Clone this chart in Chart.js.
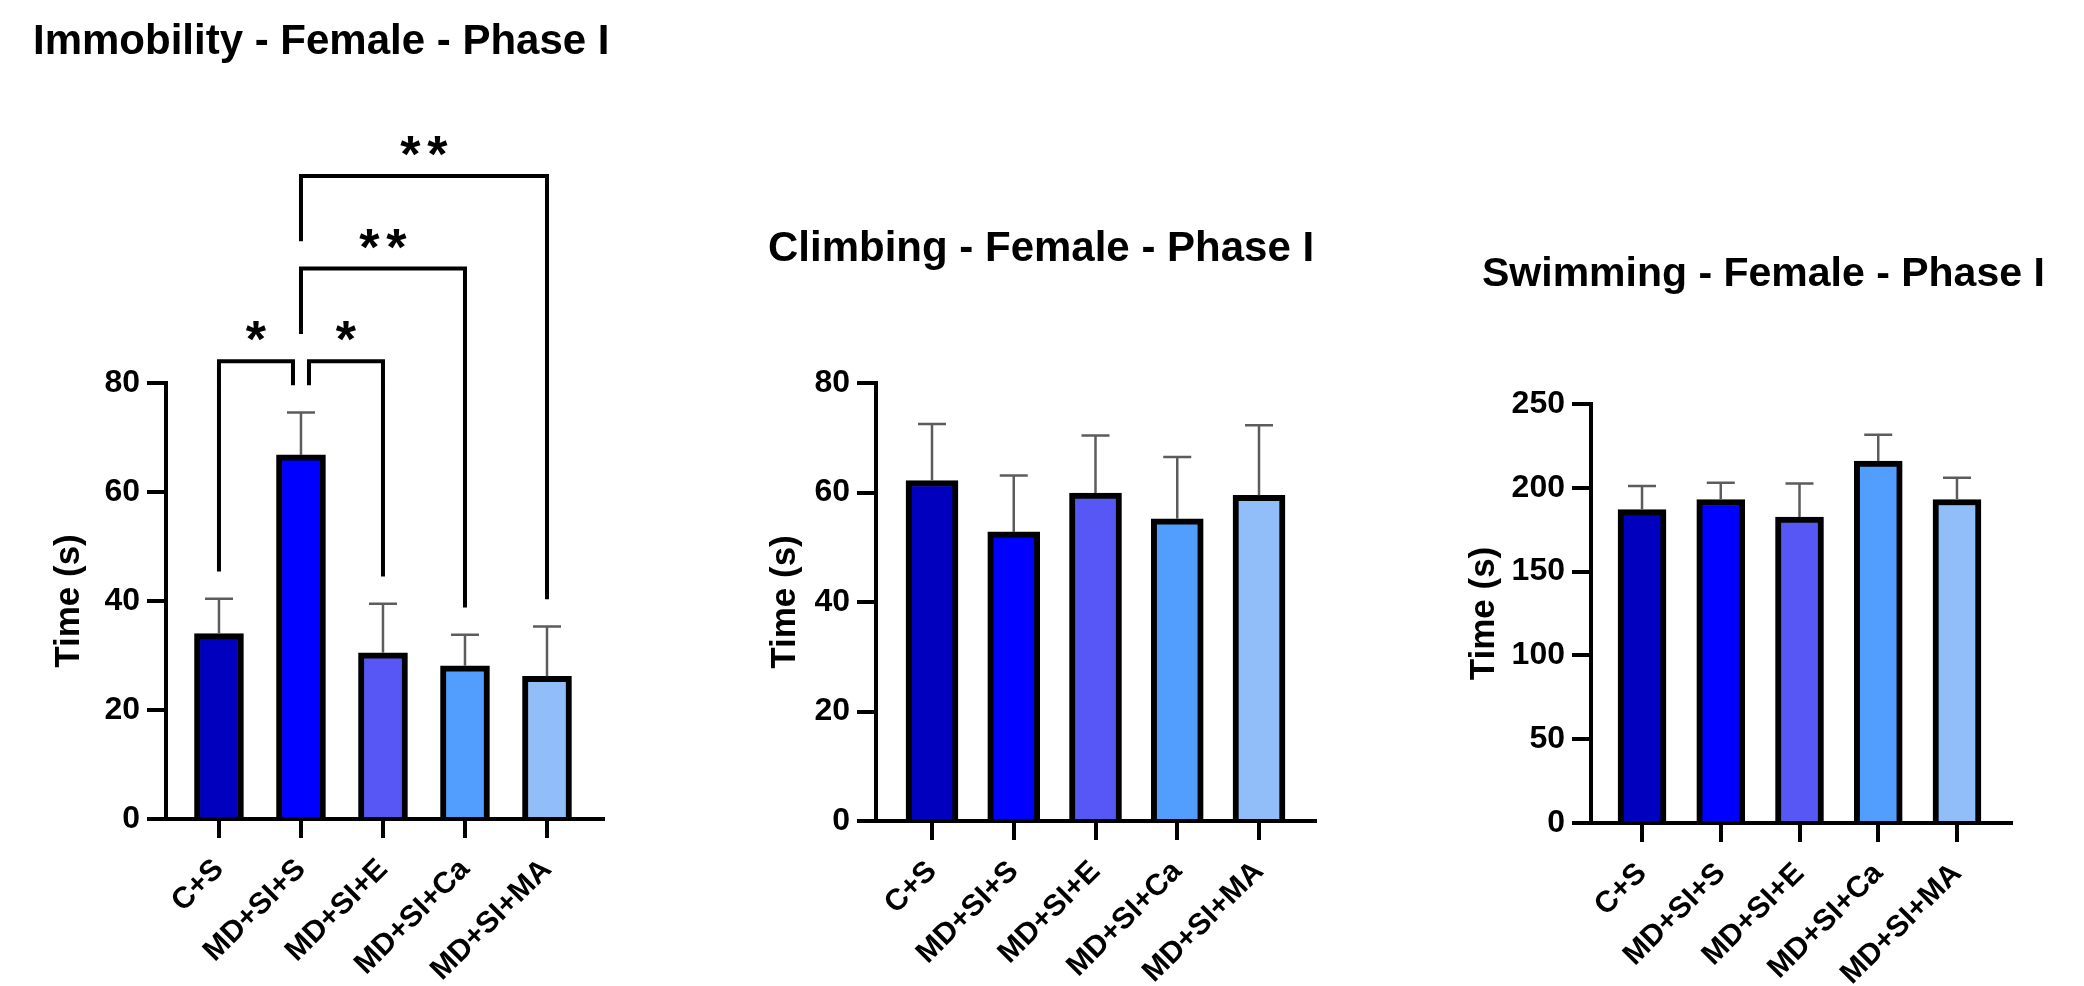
<!DOCTYPE html>
<html>
<head>
<meta charset="utf-8">
<script src="https://cdn.jsdelivr.net/npm/chart.js@4.4.1/dist/chart.umd.min.js"></script>
<style>
  html, body { margin: 0; padding: 0; background: #fff; }
  body { width: 2084px; height: 986px; position: relative; overflow: hidden; }
  canvas { position: absolute; top: 0; }
</style>
</head>
<body>
<canvas id="immobility" width="700" height="986" style="left:0px"></canvas>
<canvas id="climbing" width="660" height="986" style="left:700px"></canvas>
<canvas id="swimming" width="724" height="986" style="left:1360px"></canvas>
<script>
// groups on the x axis
const groups = ['C+S', 'MD+SI+S', 'MD+SI+E', 'MD+SI+Ca', 'MD+SI+MA'];
const barColors = ['#0000BE', '#0000FF', '#5757F6', '#529EFF', '#91BEF8'];

// means and SEM (upper error only)
const immobilityMean = [34, 66.8, 30.5, 28.1, 26.2];
const immobilitySem = [6.4, 7.8, 9.0, 5.7, 9.1];
const climbingMean = [62.2, 52.8, 59.9, 55.2, 59.5];
const climbingSem = [10.3, 10.3, 10.5, 11.3, 12.8];
const swimmingMean = [187, 193, 182.6, 216, 193];
const swimmingSem = [14, 10, 19.9, 15.7, 13];

// y tick labels
const timeTicks80 = [0, 20, 40, 60, 80];
const timeTicks250 = [0, 50, 100, 150, 200, 250];

// significance comparisons for immobility: [from, to, label]
const comparisons = [[0, 1, '*'], [1, 2, '*'], [1, 3, '**'], [1, 4, '**']];
const bracketLevels = [84, 84, 101, 118];

Chart.defaults.font.family = '"Liberation Sans", Arial, sans-serif';
Chart.defaults.color = '#000';

function makeExtras(cfg) {
  return {
    id: 'extras',
    afterDatasetsDraw(chart) {
      const ctx = chart.ctx;
      const x = chart.scales.x, y = chart.scales.y;
      ctx.save();

      // error bars
      ctx.strokeStyle = '#5c5c5c';
      ctx.lineWidth = 2.5;
      cfg.means.forEach((m, i) => {
        const px = x.getPixelForValue(i);
        const y0 = y.getPixelForValue(m);
        const y1 = y.getPixelForValue(m + cfg.sem[i]);
        ctx.beginPath();
        ctx.moveTo(px, y0);
        ctx.lineTo(px, y1);
        ctx.moveTo(px - 14, y1);
        ctx.lineTo(px + 14, y1);
        ctx.stroke();
      });

      // brackets + stars
      if (cfg.brackets) {
        const ceil = cfg.means.map((m, i) => m + cfg.sem[i]);
        let pending = [], lastLevel = null;
        ctx.strokeStyle = '#000';
        ctx.lineWidth = 4;
        ctx.fillStyle = '#000';
        ctx.font = 'bold 52px "Liberation Sans", Arial, sans-serif';
        cfg.brackets.forEach(([a, b, label], k) => {
          const lvl = cfg.levels[k];
          if (lvl !== lastLevel) {
            pending.forEach(([i, v]) => { ceil[i] = Math.max(ceil[i], v); });
            pending = [];
            lastLevel = lvl;
          }
          let xa = x.getPixelForValue(a), xb = x.getPixelForValue(b);
          cfg.brackets.forEach(([a2, b2], k2) => {
            if (k2 === k || cfg.levels[k2] !== lvl) return;
            if (b === a2) xb -= 8;
            if (a === b2) xa += 8;
          });
          const yl = y.getPixelForValue(lvl);
          ctx.beginPath();
          ctx.moveTo(xa, y.getPixelForValue(ceil[a] + 5));
          ctx.lineTo(xa, yl);
          ctx.lineTo(xb, yl);
          ctx.lineTo(xb, y.getPixelForValue(ceil[b] + 5));
          ctx.stroke();
          pending.push([a, lvl], [b, lvl]);

          const cx = (xa + xb) / 2;
          const cy = y.getPixelForValue(lvl + 5.5);
          const mt = ctx.measureText('*');
          const base = cy + (mt.actualBoundingBoxAscent - mt.actualBoundingBoxDescent) / 2;
          ctx.textAlign = 'center';
          ctx.textBaseline = 'alphabetic';
          const n = label.length;
          for (let s = 0; s < n; s++) {
            ctx.fillText('*', cx + (s - (n - 1) / 2) * 27, base);
          }
        });
      }

      // panel title
      ctx.fillStyle = '#000';
      ctx.font = 'bold ' + cfg.titleSize + 'px "Liberation Sans", Arial, sans-serif';
      ctx.textAlign = 'left';
      ctx.textBaseline = 'middle';
      ctx.fillText(cfg.title, cfg.titleX, cfg.titleY);
      ctx.restore();
    }
  };
}

function makeChart(id, cfg) {
  const canvas = document.getElementById(id);
  const W = canvas.width, H = canvas.height;
  return new Chart(canvas, {
    type: 'bar',
    data: {
      datasets: [{
        data: cfg.means.map((v, i) => ({x: i, y: v})),
        backgroundColor: barColors,
        borderColor: '#000',
        borderWidth: 6,
        barThickness: cfg.barWidth
      }]
    },
    options: {
      responsive: false,
      animation: false,
      layout: {
        padding: {top: cfg.area.top, right: W - cfg.area.right, bottom: 0, left: 0}
      },
      plugins: {legend: {display: false}, tooltip: {enabled: false}},
      scales: {
        x: {
          type: 'linear',
          offset: false,
          min: cfg.xMin,
          max: cfg.xMax,
          afterBuildTicks: s => { s.ticks = groups.map((g, i) => ({value: i})); },
          afterFit: s => { s.height = H - cfg.area.bottom; },
          grid: {offset: false, drawOnChartArea: false, drawTicks: true, tickLength: 19, lineWidth: 4, color: '#000'},
          border: {display: true, color: '#000', width: 4},
          ticks: {
            callback: v => groups[v],
            minRotation: 45,
            maxRotation: 45,
            autoSkip: false,
            padding: 14,
            color: '#000',
            font: {size: 30, weight: 'bold'}
          }
        },
        y: {
          min: 0,
          max: cfg.yMax,
          afterBuildTicks: s => { s.ticks = cfg.yTicks.map(v => ({value: v})); },
          afterFit: s => { s.width = cfg.area.left; },
          grid: {drawOnChartArea: false, drawTicks: true, tickLength: 19, lineWidth: 4, color: '#000'},
          border: {display: true, color: '#000', width: 4},
          ticks: {padding: 7, color: '#000', font: {size: 32, weight: 'bold'}},
          title: {
            display: true,
            text: 'Time (s)',
            color: '#000',
            font: {size: 35, weight: 'bold', lineHeight: 1},
            padding: {top: cfg.yTitleX - 17.5, bottom: 0}
          }
        }
      }
    },
    plugins: [makeExtras(cfg)]
  });
}

makeChart('immobility', {
  means: immobilityMean, sem: immobilitySem, yTicks: timeTicks80, yMax: 80,
  area: {left: 166, right: 603, top: 383, bottom: 819},
  xMin: -0.646, xMax: 4.683, barWidth: 49, yTitleX: 69,
  title: 'Immobility - Female - Phase I', titleX: 33, titleY: 42, titleSize: 42,
  brackets: comparisons, levels: bracketLevels
});

makeChart('climbing', {
  means: climbingMean, sem: climbingSem, yTicks: timeTicks80, yMax: 80,
  area: {left: 176, right: 615, top: 383, bottom: 821},
  xMin: -0.685, xMax: 4.685, barWidth: 52, yTitleX: 85,
  title: 'Climbing - Female - Phase I', titleX: 68, titleY: 249, titleSize: 42
});

makeChart('swimming', {
  means: swimmingMean, sem: swimmingSem, yTicks: timeTicks250, yMax: 250,
  area: {left: 231, right: 651, top: 404, bottom: 823},
  xMin: -0.648, xMax: 4.686, barWidth: 48, yTitleX: 124.5,
  title: 'Swimming - Female - Phase I', titleX: 122, titleY: 275, titleSize: 41
});
</script>
</body>
</html>
